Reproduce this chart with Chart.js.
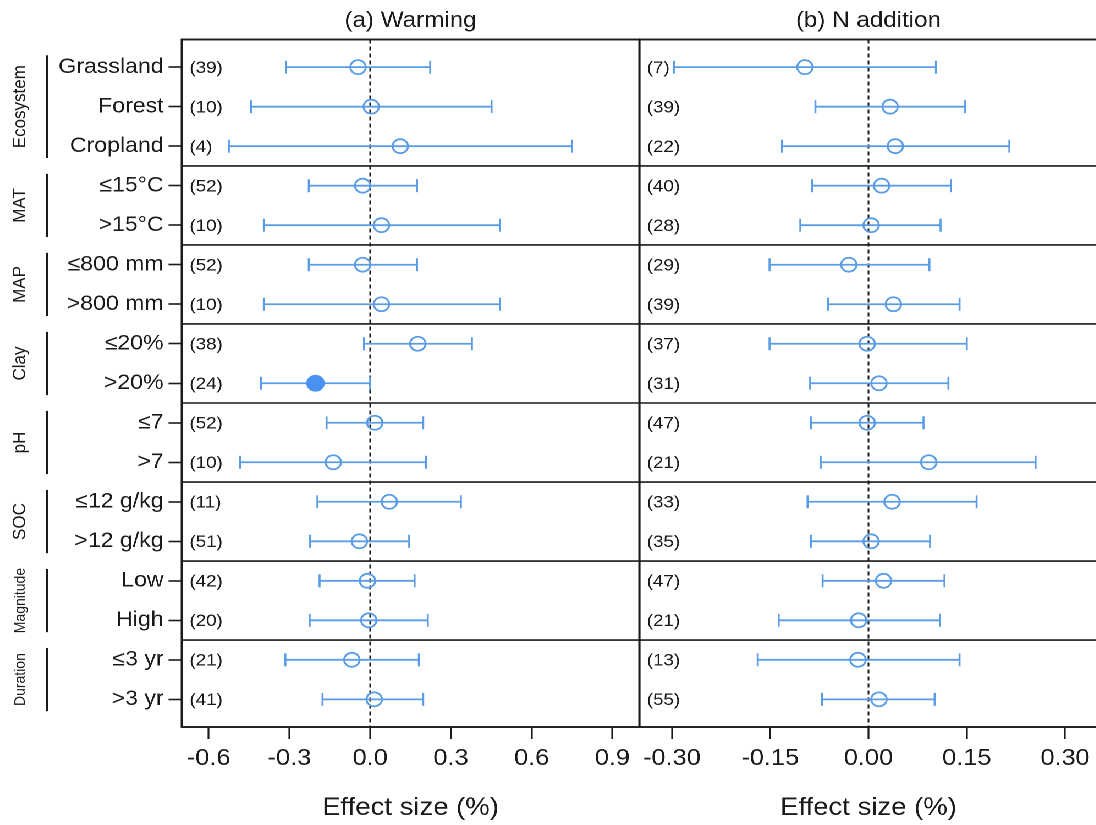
<!DOCTYPE html>
<html><head><meta charset="utf-8">
<script src="https://cdn.jsdelivr.net/npm/chart.js@4.4.1/dist/chart.umd.min.js"></script>
<style>
html,body{margin:0;padding:0;background:#fff;overflow:hidden;width:1096px;height:825px;}
#wrap{position:absolute;left:0;top:0;width:1000px;height:825px;transform:scaleX(1.1);transform-origin:0 0;}
canvas{position:absolute;top:0;}
#cA{left:0;} #cB{left:581px;}
</style></head><body>
<div id="wrap"><canvas id="cA" width="582" height="825"></canvas><canvas id="cB" width="417" height="825"></canvas></div>
<script>
// ---------- data ----------
const rowLabels = ['Grassland','Forest','Cropland','≤15°C','>15°C','≤800 mm','>800 mm','≤20%','>20%','≤7','>7','≤12 g/kg','>12 g/kg','Low','High','≤3 yr','>3 yr'];
const groupNames = ['Ecosystem','MAT','MAP','Clay','pH','SOC','Magnitude','Duration'];
const groupSizes = [3,2,2,2,2,2,2,2];

const warmMean = [-0.045, 0.004, 0.112, -0.028, 0.042, -0.028, 0.042, 0.177, -0.203, 0.017, -0.137, 0.071, -0.040, -0.010, -0.005, -0.068, 0.015];
const warmLow  = [-0.313, -0.443, -0.525, -0.228, -0.395, -0.228, -0.395, -0.023, -0.406, -0.162, -0.483, -0.196, -0.223, -0.188, -0.225, -0.315, -0.177];
const warmHigh = [0.223, 0.451, 0.750, 0.174, 0.482, 0.174, 0.482, 0.378, 0.000, 0.197, 0.207, 0.337, 0.145, 0.165, 0.214, 0.181, 0.197];
const warmN    = [39, 10, 4, 52, 10, 52, 10, 38, 24, 52, 10, 11, 51, 42, 20, 21, 41];
const warmSig  = [0,0,0,0,0,0,0,0,1,0,0,0,0,0,0,0,0];

const nMean = [-0.097, 0.033, 0.041, 0.020, 0.004, -0.030, 0.038, -0.002, 0.016, -0.002, 0.092, 0.036, 0.004, 0.023, -0.015, -0.016, 0.016];
const nLow  = [-0.297, -0.081, -0.132, -0.086, -0.104, -0.151, -0.062, -0.151, -0.089, -0.088, -0.073, -0.093, -0.088, -0.070, -0.137, -0.169, -0.071];
const nHigh = [0.103, 0.147, 0.215, 0.126, 0.110, 0.093, 0.139, 0.150, 0.122, 0.084, 0.255, 0.165, 0.094, 0.116, 0.109, 0.139, 0.101];
const nN    = [7, 39, 22, 40, 28, 29, 39, 37, 31, 47, 21, 33, 35, 47, 21, 13, 55];
const nSig  = [0,0,0,0,0,0,0,0,0,0,0,0,0,0,0,0,0];

const warmTicks = [-0.6, -0.3, 0.0, 0.3, 0.6, 0.9];
const nTicks = [-0.30, -0.15, 0.00, 0.15, 0.30];

// ---------- styles ----------
const FONT = '"Liberation Sans", Arial, Helvetica, sans-serif';
const TEXT = '#1a1a1a';
const FRAME = '#1a1a1a';
const BLUE = '#5a9de6';
const BLUE_F = '#4a92f2';

function seg(ctx,x1,y1,x2,y2){ctx.beginPath();ctx.moveTo(x1,y1);ctx.lineTo(x2,y2);ctx.stroke();}

function forestPlugin(o){
  return {
    id: 'forest_'+o.key,
    beforeDatasetsDraw(chart){
      const ctx = chart.ctx, a = chart.chartArea, x = chart.scales.x, y = chart.scales.y;
      ctx.save();
      ctx.strokeStyle = FRAME; ctx.lineWidth = 1.6;
      let acc = 0;
      groupSizes.slice(0,-1).forEach(s => { acc += s; const yy = y.getPixelForValue(acc+0.5); seg(ctx,a.left,yy,a.right,yy); });
      ctx.setLineDash([4,3]); ctx.lineWidth = 1.5;
      const x0 = x.getPixelForValue(0); seg(ctx,x0,a.top,x0,a.bottom);
      ctx.setLineDash([]);
      ctx.strokeStyle = BLUE; ctx.lineWidth = 1.8;
      o.low.forEach((lo,i) => {
        const yy = y.getPixelForValue(i+1);
        const x1 = x.getPixelForValue(lo), x2 = x.getPixelForValue(o.high[i]);
        seg(ctx,x1,yy,x2,yy); seg(ctx,x1,yy-6.5,x1,yy+6.5); seg(ctx,x2,yy-6.5,x2,yy+6.5);
      });
      ctx.fillStyle = TEXT; ctx.font = '17px '+FONT; ctx.textAlign = 'left'; ctx.textBaseline = 'middle';
      o.n.forEach((v,i) => ctx.fillText('('+v+')', a.left+7, y.getPixelForValue(i+1)+1));
      ctx.restore();
    },
    afterDraw(chart){
      const ctx = chart.ctx, a = chart.chartArea, y = chart.scales.y;
      ctx.save();
      ctx.strokeStyle = FRAME; ctx.lineWidth = 1.9;
      ctx.strokeRect(a.left, a.top, a.right-a.left, a.bottom-a.top);
      if (!o.groups){ ctx.lineWidth = 2.6; seg(ctx, a.left, a.top, a.left, a.bottom); }
      ctx.fillStyle = TEXT; ctx.textAlign = 'center'; ctx.textBaseline = 'middle';
      const cx = (a.left+a.right)/2;
      ctx.font = '22px '+FONT; ctx.fillText(o.title, cx, 21);
      ctx.font = '25px '+FONT; ctx.fillText('Effect size (%)', cx, 808);
      if (o.groups){
        let start = 1;
        groupSizes.forEach((s,gi) => {
          const y1 = y.getPixelForValue(start), y2 = y.getPixelForValue(start+s-1);
          const c = (y1+y2)/2, unit = Math.abs(y.getPixelForValue(2)-y.getPixelForValue(1));
          const half = (s-0.4)*unit/2;
          ctx.strokeStyle = FRAME; ctx.lineWidth = 1.6;
          seg(ctx, 42.7, c-half, 42.7, c+half);
          ctx.save();
          ctx.translate(18.5, c); ctx.rotate(-Math.PI/2);
          ctx.font = ((groupNames[gi]==='Magnitude'||groupNames[gi]==='Duration') ? 14 : 17)+'px '+FONT;
          ctx.fillText(groupNames[gi], 0, 0);
          ctx.restore();
          start += s;
        });
      }
      ctx.restore();
    }
  };
}

function makeChart(id, o){
  return new Chart(document.getElementById(id), {
    type: 'scatter',
    data: { datasets: [{
      data: o.mean.map((m,i) => ({x:m, y:i+1})),
      pointRadius: o.sig.map(s => s ? 7.5 : 7),
      pointHoverRadius: 7,
      pointBorderWidth: 1.8,
      pointBorderColor: o.sig.map(s => s ? BLUE_F : BLUE),
      pointBackgroundColor: o.sig.map(s => s ? BLUE_F : 'rgba(0,0,0,0)'),
      showLine: false
    }]},
    options: {
      responsive: false, animation: false, devicePixelRatio: 2,
      layout: { autoPadding: false, padding: { top: 39.5, right: o.padRight, bottom: 0, left: 0 } },
      plugins: { legend: {display:false}, tooltip: {enabled:false}, title: {display:false} },
      scales: {
        x: {
          type: 'linear', min: o.min, max: o.max,
          afterFit: s => { s.height = 98; s.paddingLeft = 0; s.paddingRight = 0; },
          afterBuildTicks: s => { s.ticks = o.ticks.map(v => ({value:v})); },
          ticks: { autoSkip:false, maxRotation:0, padding: 6, color: TEXT,
                   font: {family: FONT, size: 23},
                   callback: v => Number(v).toFixed(o.dec) },
          grid: { drawOnChartArea:false, drawTicks:true, tickLength:12, tickColor: FRAME, tickWidth:1.6 },
          border: { display:false }
        },
        y: {
          type: 'linear', min: 0.3, max: 17.7, reverse: true, display: o.showY,
          afterFit: s => { s.width = o.showY ? 165.2 : 0; s.paddingTop = 0; s.paddingBottom = 0; },
          afterBuildTicks: s => { s.ticks = rowLabels.map((_,i) => ({value:i+1})); },
          ticks: { autoSkip:false, padding: 4.5, color: TEXT, font: {family: FONT, size: 21},
                   callback: v => rowLabels[Math.round(v)-1] },
          grid: { drawOnChartArea:false, drawTicks:true, tickLength:12, tickColor: FRAME, tickWidth:1.6 },
          border: { display:false }
        }
      }
    },
    plugins: [forestPlugin(o)]
  });
}

makeChart('cA', {key:'a', mean: warmMean, low: warmLow, high: warmHigh, n: warmN, sig: warmSig,
  min: -0.7, max: 1.0, ticks: warmTicks, dec: 1, title: '(a) Warming', groups: true, showY: true, padRight: 0.8});
makeChart('cB', {key:'b', mean: nMean, low: nLow, high: nHigh, n: nN, sig: nSig,
  min: -0.35, max: 0.35, ticks: nTicks, dec: 2, title: '(b) N addition', groups: false, showY: false, padRight: 0});
</script></body></html>
